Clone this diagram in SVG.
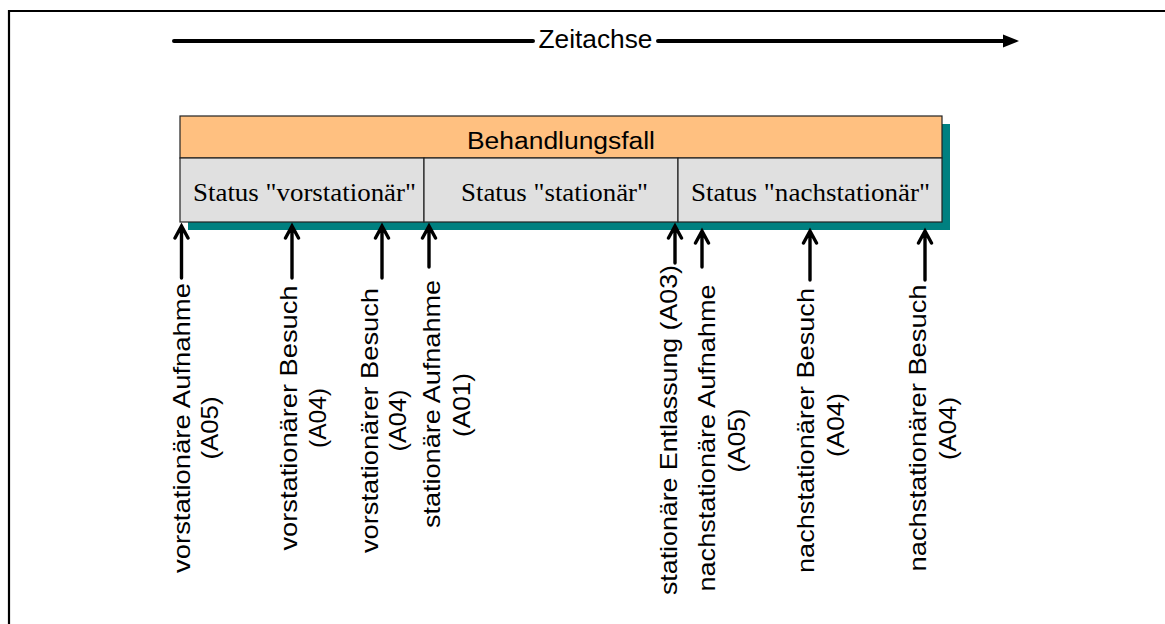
<svg xmlns="http://www.w3.org/2000/svg" width="1165" height="624" viewBox="0 0 1165 624">
<style>
.sans{font-family:"Liberation Sans",Arial,sans-serif;fill:#000}
.serif{font-family:"Liberation Serif","Times New Roman",serif;fill:#000;font-size:26px}
.lbl{font-family:"Liberation Sans",Arial,sans-serif;font-size:24.5px;fill:#000}
.arr{fill:none;stroke:#000;stroke-width:3.4;stroke-linecap:round;stroke-linejoin:miter}
</style>
<rect width="1165" height="624" fill="#fff"/>
<path d="M9,624 V11 H1165" fill="none" stroke="#000" stroke-width="2.2"/>

<g id="zeitachse">
<path d="M174,41 H533 M658,41 H1005" stroke="#000" stroke-width="4" stroke-linecap="round"/>
<polygon points="1003,34.5 1019,41 1003,47.5" fill="#000"/>
<text class="sans" x="595.5" y="47.5" font-size="25.5" text-anchor="middle" textLength="114" lengthAdjust="spacingAndGlyphs">Zeitachse</text>
</g>

<g id="behandlungsfall">
<rect x="188" y="124" width="762" height="106" fill="#008080"/>
<rect x="180" y="116" width="762" height="42" fill="#FFC080" stroke="#222" stroke-width="1.2"/>
<text class="sans" x="561" y="148.5" font-size="23.5" text-anchor="middle" textLength="188" lengthAdjust="spacingAndGlyphs">Behandlungsfall</text>
</g>

<g id="status-vorstationaer">
<rect x="180" y="158" width="244" height="64" fill="#E0E0E0" stroke="#222" stroke-width="1.2"/>
<text class="serif" x="304.5" y="200.5" text-anchor="middle" textLength="223" lengthAdjust="spacingAndGlyphs">Status "vorstationär"</text>
</g>
<g id="status-stationaer">
<rect x="424" y="158" width="254" height="64" fill="#E0E0E0" stroke="#222" stroke-width="1.2"/>
<text class="serif" x="554.5" y="200.5" text-anchor="middle" textLength="187" lengthAdjust="spacingAndGlyphs">Status "stationär"</text>
</g>
<g id="status-nachstationaer">
<rect x="678" y="158" width="264" height="64" fill="#E0E0E0" stroke="#222" stroke-width="1.2"/>
<text class="serif" x="810.5" y="200.5" text-anchor="middle" textLength="239" lengthAdjust="spacingAndGlyphs">Status "nachstationär"</text>
</g>

<g id="connectors">
<path class="arr" d="M181.5,278 V226 M175,238 L181.5,226 L188,238"/>
<path class="arr" d="M292,278 V226 M285.5,238 L292,226 L298.5,238"/>
<path class="arr" d="M382,278 V226 M375.5,238 L382,226 L388.5,238"/>
<path class="arr" d="M429,267 V226 M422.5,238 L429,226 L435.5,238"/>
<path class="arr" d="M675,263 V226 M668.5,238 L675,226 L681.5,238"/>
<path class="arr" d="M702,267 V231 M695.5,243 L702,231 L708.5,243"/>
<path class="arr" d="M810,280 V231 M803.5,243 L810,231 L816.5,243"/>
<path class="arr" d="M925,280 V231 M918.5,243 L925,231 L931.5,243"/>
</g>

<g id="label-1">
<text class="lbl" transform="translate(189.5,428) rotate(-90)" text-anchor="middle"><tspan x="0" y="0" textLength="290" lengthAdjust="spacingAndGlyphs">vorstationäre Aufnahme</tspan><tspan x="0" y="28.5" textLength="63" lengthAdjust="spacingAndGlyphs">(A05)</tspan></text>
</g>
<g id="label-2">
<text class="lbl" transform="translate(296.5,418) rotate(-90)" text-anchor="middle"><tspan x="0" y="0" textLength="265" lengthAdjust="spacingAndGlyphs">vorstationärer Besuch</tspan><tspan x="0" y="29" textLength="60" lengthAdjust="spacingAndGlyphs">(A04)</tspan></text>
</g>
<g id="label-3">
<text class="lbl" transform="translate(378,420.5) rotate(-90)" text-anchor="middle"><tspan x="0" y="0" textLength="265" lengthAdjust="spacingAndGlyphs">vorstationärer Besuch</tspan><tspan x="0" y="28" textLength="62" lengthAdjust="spacingAndGlyphs">(A04)</tspan></text>
</g>
<g id="label-4">
<text class="lbl" transform="translate(440,404) rotate(-90)" text-anchor="middle"><tspan x="0" y="0" textLength="248" lengthAdjust="spacingAndGlyphs">stationäre Aufnahme</tspan><tspan x="-1" y="29.5" textLength="64" lengthAdjust="spacingAndGlyphs">(A01)</tspan></text>
</g>
<g id="label-5">
<text class="lbl" transform="translate(677,430) rotate(-90)" text-anchor="middle" textLength="330" lengthAdjust="spacingAndGlyphs">stationäre Entlassung (A03)</text>
</g>
<g id="label-6">
<text class="lbl" transform="translate(714.5,438) rotate(-90)" text-anchor="middle"><tspan x="0" y="0" textLength="307" lengthAdjust="spacingAndGlyphs">nachstationäre Aufnahme</tspan><tspan x="-2.5" y="30" textLength="64" lengthAdjust="spacingAndGlyphs">(A05)</tspan></text>
</g>
<g id="label-7">
<text class="lbl" transform="translate(814,430.5) rotate(-90)" text-anchor="middle"><tspan x="0" y="0" textLength="285" lengthAdjust="spacingAndGlyphs">nachstationärer Besuch</tspan><tspan x="5.5" y="29.5" textLength="64" lengthAdjust="spacingAndGlyphs">(A04)</tspan></text>
</g>
<g id="label-8">
<text class="lbl" transform="translate(926,428) rotate(-90)" text-anchor="middle"><tspan x="0" y="0" textLength="287" lengthAdjust="spacingAndGlyphs">nachstationärer Besuch</tspan><tspan x="-0.5" y="30" textLength="63" lengthAdjust="spacingAndGlyphs">(A04)</tspan></text>
</g>
</svg>
